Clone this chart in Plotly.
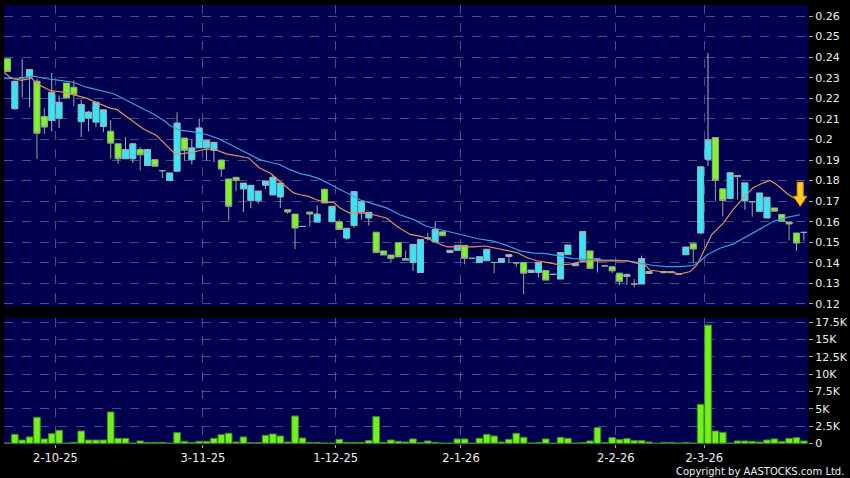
import plotly.graph_objects as go
from plotly.subplots import make_subplots

# ---------------- data ----------------
# candle index 0..108; None = no candle drawn
opens = [0.2392, 0.2149, 0.2300, 0.2303, 0.2283, 0.2112, 0.2092, 0.2103, 0.2274, 0.2254,
         0.2086, 0.2103, 0.2084, 0.2063, 0.2040, 0.1979, 0.1906, 0.1906, 0.1951, 0.1873,
         0.1902, 0.1848, 0.1800, 0.1845, 0.2007, 0.1902, 0.1959, 0.1959, 0.1947, 0.1900,
         0.1808, 0.1816, 0.1759, 0.1702, 0.1702, 0.1777, 0.1730, 0.1720, 0.1658, 0.1637,
         0.1577, 0.1647, 0.1598, 0.1758, 0.1600, 0.1600, 0.1520, 0.1581, 0.1647, 0.1618,
         0.1549, 0.1458, 0.1438, 0.1498, 0.1421, 0.1401, 0.1353, 0.1520, 0.1501, 0.1551,
         0.1450, 0.1461, 0.1485, 0.1422, 0.1401, 0.1410, 0.1402, 0.1402, 0.1431, 0.1400,
         0.1402, 0.1353, 0.1353, 0.1363, 0.1344, 0.1321, 0.1440, 0.1386, 0.1413, 0.1458,
         0.1418, 0.1385, 0.1381, 0.1350, 0.1334, 0.1297, 0.1297, 0.1348, None, 0.1358,
         0.1358, 0.1345, 0.1439, 0.1493, 0.1545, 0.1903, 0.2009, 0.1760, 0.1713, 0.1825,
         0.1703, 0.1697, 0.1650, 0.1618, 0.1667, 0.1635, 0.1599, 0.1545, 0.1548]
closes = [0.2330, 0.2283, 0.2300, 0.2340, 0.2030, 0.2060, 0.2230, 0.2181, 0.2201, 0.2218,
          0.2170, 0.2133, 0.2181, 0.2144, 0.1982, 0.1906, 0.1951, 0.1979, 0.1925, 0.1951,
          0.1870, 0.1848, 0.1837, 0.2080, 0.1947, 0.1959, 0.2056, 0.1996, 0.1986, 0.1856,
          0.1675, 0.1800, 0.1788, 0.1777, 0.1749, 0.1798, 0.1816, 0.1788, 0.1647, 0.1569,
          0.1577, 0.1637, 0.1637, 0.1691, 0.1675, 0.1562, 0.1568, 0.1747, 0.1699, 0.1646,
          0.1450, 0.1438, 0.1421, 0.1429, 0.1413, 0.1490, 0.1514, 0.1520, 0.1562, 0.1532,
          0.1461, 0.1485, 0.1422, 0.1422, 0.1430, 0.1466, 0.1402, 0.1421, 0.1440, 0.1400,
          0.1350, 0.1365, 0.1402, 0.1316, 0.1344, 0.1450, 0.1487, 0.1397, 0.1552, 0.1373,
          0.1418, 0.1385, 0.1361, 0.1310, 0.1344, 0.1297, 0.1421, 0.1358, None, 0.1352,
          0.1352, 0.1345, 0.1477, 0.1467, 0.1867, 0.1998, 0.1801, 0.1703, 0.1838, 0.1819,
          0.1789, 0.1697, 0.1740, 0.1719, 0.1651, 0.1602, 0.1589, 0.1496, 0.1548]
highs = [0.2392, 0.2285, 0.2392, 0.2340, 0.2295, 0.2152, 0.2324, 0.2214, 0.2274, 0.2287,
         0.2194, 0.2140, 0.2181, 0.2144, 0.2095, 0.1979, 0.2011, 0.1979, 0.1962, 0.1951,
         0.1902, 0.1848, 0.1837, 0.2132, 0.2007, 0.2000, 0.2102, 0.1996, 0.1986, 0.1900,
         0.1808, 0.1816, 0.1788, 0.1777, 0.1749, 0.1798, 0.1830, 0.1788, 0.1658, 0.1637,
         0.1577, 0.1647, 0.1678, 0.1758, 0.1675, 0.1611, 0.1568, 0.1747, 0.1699, 0.1646,
         0.1549, 0.1458, 0.1438, 0.1498, 0.1461, 0.1490, 0.1514, 0.1546, 0.1602, 0.1551,
         0.1461, 0.1485, 0.1485, 0.1422, 0.1430, 0.1466, 0.1402, 0.1421, 0.1440, 0.1400,
         0.1402, 0.1365, 0.1402, 0.1363, 0.1344, 0.1450, 0.1487, 0.1397, 0.1552, 0.1458,
         0.1418, 0.1385, 0.1381, 0.1350, 0.1344, 0.1321, 0.1435, 0.1358, None, 0.1358,
         0.1358, 0.1345, 0.1477, 0.1493, 0.1867, 0.2420, 0.2009, 0.1760, 0.1838, 0.1825,
         0.1789, 0.1697, 0.1740, 0.1719, 0.1667, 0.1635, 0.1599, 0.1545, 0.1548]
lows = [0.2330, 0.2145, 0.2205, 0.2157, 0.1906, 0.2027, 0.2039, 0.2056, 0.2200, 0.2162,
        0.2011, 0.2039, 0.2060, 0.2035, 0.1906, 0.1881, 0.1906, 0.1885, 0.1849, 0.1870,
        0.1870, 0.1812, 0.1800, 0.1845, 0.1897, 0.1878, 0.1959, 0.1897, 0.1891, 0.1818,
        0.1606, 0.1748, 0.1647, 0.1665, 0.1688, 0.1759, 0.1730, 0.1667, 0.1637, 0.1467,
        0.1577, 0.1577, 0.1598, 0.1691, 0.1600, 0.1562, 0.1512, 0.1570, 0.1610, 0.1581,
        0.1450, 0.1438, 0.1401, 0.1429, 0.1413, 0.1361, 0.1353, 0.1510, 0.1501, 0.1532,
        0.1450, 0.1461, 0.1393, 0.1422, 0.1401, 0.1410, 0.1350, 0.1402, 0.1400, 0.1380,
        0.1248, 0.1353, 0.1329, 0.1316, 0.1344, 0.1321, 0.1440, 0.1386, 0.1413, 0.1373,
        0.1353, 0.1385, 0.1350, 0.1292, 0.1292, 0.1280, 0.1297, 0.1348, None, 0.1352,
        0.1352, 0.1340, 0.1439, 0.1400, 0.1540, 0.1871, 0.1700, 0.1626, 0.1713, 0.1708,
        0.1659, 0.1624, 0.1650, 0.1618, 0.1651, 0.1602, 0.1509, 0.1459, 0.1507]
volumes_k = [0.05, 1.30, 0.48, 0.92, 3.76, 0.63, 1.40, 1.88, 0.03, 0.14,
             1.78, 0.48, 0.48, 0.48, 4.53, 0.72, 0.72, 0.03, 0.34, 0.14,
             0.14, 0.14, 0.03, 1.54, 0.29, 0.10, 0.29, 0.29, 0.72, 1.25,
             1.45, 0.19, 0.92, 0.10, 0.10, 1.16, 1.35, 1.06, 0.19, 3.95,
             0.77, 0.14, 0.14, 0.03, 0.03, 0.58, 0.14, 0.14, 0.14, 0.43,
             3.86, 0.14, 0.48, 0.29, 0.19, 0.63, 0.10, 0.34, 0.14, 0.03,
             0.03, 0.63, 0.63, 0.03, 0.72, 1.30, 1.06, 0.19, 0.58, 1.45,
             0.87, 0.03, 0.14, 0.63, 0.03, 0.87, 0.72, 0.03, 0.10, 0.34,
             2.27, 0.10, 0.82, 0.53, 0.67, 0.39, 0.39, 0.19, 0.00, 0.14,
             0.14, 0.03, 0.14, 0.03, 5.64, 17.10, 1.78, 1.59, 0.05, 0.34,
             0.34, 0.29, 0.19, 0.48, 0.63, 0.29, 0.72, 0.82, 0.34]

# moving-average lines (position on candle index scale, value)
ma_short_x = [-0.47, 0.5, 1.9, 3.3, 4, 5.8, 7.6, 9.2, 10.7, 12.5, 13.9, 14.8, 16.6, 18.4, 20.2,
              21.6, 22.7, 23.8, 25.2, 26.6, 27.9, 29.7, 31.3, 32.7, 34.2, 35.6, 37.2, 38.8,
              39.7, 40.8, 41.9, 43.1, 44.2, 45.1, 46.4, 48.3, 49.6, 51.4, 52.8, 54.6, 55.9,
              56.8, 58.2, 59.6, 61.4, 63.2, 64.8, 65.9, 67.7, 69.1, 70.4, 71.8, 73.1, 74.9,
              76.3, 77.6, 79, 80.3, 82.2, 84, 84.9, 86.5, 87.1, 88.5, 90.3, 91.2, 92.6, 93.5,
              94.4, 95.5, 97.1, 98.4, 99.8, 101.1, 102.5, 103.4, 104.3, 105.7, 106.6, 107.5]
ma_short_y = [0.2327, 0.2298, 0.2287, 0.2298, 0.2270, 0.2238, 0.2230, 0.2214, 0.2201, 0.2173,
              0.2152, 0.2146, 0.2100, 0.2052, 0.2019, 0.1967, 0.1931, 0.1931, 0.1938, 0.1951,
              0.1954, 0.1930, 0.1918, 0.1910, 0.1861, 0.1837, 0.1788, 0.1740, 0.1731, 0.1723,
              0.1707, 0.1694, 0.1694, 0.1667, 0.1642, 0.1642, 0.1634, 0.1618, 0.1578, 0.1538,
              0.1530, 0.1522, 0.1498, 0.1478, 0.1478, 0.1478, 0.1482, 0.1474, 0.1458, 0.1450,
              0.1426, 0.1410, 0.1402, 0.1390, 0.1394, 0.1405, 0.1410, 0.1410, 0.1413, 0.1410,
              0.1402, 0.1389, 0.1365, 0.1358, 0.1353, 0.1345, 0.1358, 0.1390, 0.1455, 0.1537,
              0.1594, 0.1659, 0.1716, 0.1765, 0.1789, 0.1801, 0.1781, 0.1737, 0.1716, 0.1700]
ma_long_x = [-0.47, 1.7, 3.5, 5.3, 7.1, 8.9, 10.7, 12.5, 14.4, 16.2, 18, 19.8, 21.4, 22, 23.4,
             25.2, 27, 28.6, 30.2, 31.5, 32.9, 34.2, 35.6, 36.9, 38.3, 39.7, 41, 42.4, 44.2,
             46, 47.8, 49.6, 51.4, 53.2, 55.1, 56.8, 58.7, 60.5, 62.3, 64, 65.9, 67.7, 69.5,
             71.4, 73.1, 74.9, 76.7, 78.4, 80.3, 82.2, 84, 85.3, 86.5, 87.6, 89.4, 91.2, 93,
             93.9, 94.9, 96.7, 98.4, 100.3, 102.1, 103.9, 105.7, 107.5]
ma_long_y = [0.2295, 0.2298, 0.2308, 0.2295, 0.2287, 0.2278, 0.2254, 0.2238, 0.2222, 0.2189,
             0.2157, 0.2124, 0.2087, 0.2068, 0.2045, 0.2037, 0.2024, 0.2004, 0.1975, 0.1951,
             0.1926, 0.1902, 0.1889, 0.1878, 0.1853, 0.1834, 0.1824, 0.1807, 0.1774, 0.1739,
             0.1707, 0.1687, 0.1667, 0.1634, 0.1610, 0.1578, 0.1562, 0.1549, 0.1533, 0.1516,
             0.1506, 0.1485, 0.1458, 0.1447, 0.1445, 0.1434, 0.1421, 0.1418, 0.1413, 0.1413,
             0.1410, 0.1402, 0.1395, 0.1387, 0.1382, 0.1382, 0.1387, 0.1407, 0.1439, 0.1472,
             0.1491, 0.1529, 0.1569, 0.1602, 0.1621, 0.1634]

date_tick_pos = [6.5, 26.5, 44.5, 61.5, 82.5, 94.5]
date_tick_text = ["2-10-25", "3-11-25", "1-12-25", "2-1-26", "2-2-26", "2-3-26"]
price_ticks = [0.12, 0.13, 0.14, 0.15, 0.16, 0.17, 0.18, 0.19, 0.20, 0.21, 0.22, 0.23, 0.24, 0.25, 0.26]
price_tick_text = ["0.12", "0.13", "0.14", "0.15", "0.16", "0.17", "0.18", "0.19", "0.2",
                   "0.21", "0.22", "0.23", "0.24", "0.25", "0.26"]
vol_ticks = [0, 2.5, 5, 7.5, 10, 12.5, 15, 17.5]
vol_tick_text = ["0", "2.5K", "5K", "7.5K", "10K", "12.5K", "15K", "17.5K"]
copyright_text = "Copyright by AASTOCKS.com Ltd."

idx = list(range(len(opens)))

# ---------------- styling ----------------
NAVY = "#00004e"
CYAN = "#30e8f8"
GREEN = "#7ef526"
GRID = "rgba(150,150,200,0.5)"
TXT = "#eeeeee"
FONT = "DejaVu Sans"

fig = make_subplots(rows=2, cols=1, shared_xaxes=False, vertical_spacing=0.0)

fig.add_trace(go.Candlestick(
    x=idx, open=opens, high=highs, low=lows, close=closes,
    increasing=dict(fillcolor=CYAN, line=dict(color="#9fb3bb", width=1)),
    decreasing=dict(fillcolor=GREEN, line=dict(color="#94a88c", width=1)),
    whiskerwidth=0, showlegend=False, hoverinfo="skip"), row=1, col=1)

fig.add_trace(go.Scatter(x=ma_long_x, y=ma_long_y, mode="lines",
                         line=dict(color="#3e9be6", width=1.2), showlegend=False,
                         hoverinfo="skip"), row=1, col=1)
fig.add_trace(go.Scatter(x=ma_short_x, y=ma_short_y, mode="lines",
                         line=dict(color="#e0915c", width=1.2), showlegend=False,
                         hoverinfo="skip"), row=1, col=1)

fig.add_trace(go.Bar(x=idx, y=volumes_k, marker=dict(color="#72f21c",
                     line=dict(color="#3f8a22", width=1)),
                     showlegend=False, hoverinfo="skip"), row=2, col=1)

xrange = [-0.47, 108.56]
common_x = dict(range=xrange, showgrid=True, gridcolor=GRID, griddash="dash", gridwidth=1,
                tickvals=date_tick_pos, zeroline=False, showline=False,
                rangeslider=dict(visible=False), fixedrange=True, automargin=False)

fig.update_layout(
    width=850, height=478, autosize=False,
    paper_bgcolor="black", plot_bgcolor=NAVY,
    margin=dict(l=4, r=42, t=5, b=34, autoexpand=False),
    font=dict(family=FONT, color=TXT, size=11),
    boxgap=0.17, boxgroupgap=0.0, bargap=0.1,
    xaxis=dict(domain=[0, 1], anchor="y", showticklabels=False, ticks="", **common_x),
    xaxis2=dict(domain=[0, 1], anchor="y2", ticktext=date_tick_text, ticks="outside",
                ticklen=3, tickcolor="#aaaaaa", tickfont=dict(size=11.5, color=TXT),
                **common_x),
    yaxis=dict(domain=[0.3144, 1], range=[0.11903, 0.26536], side="right",
               tickvals=price_ticks, ticktext=price_tick_text, ticks="outside", ticklen=4,
               tickcolor="#aaaaaa", showgrid=True, gridcolor=GRID, griddash="dash",
               zeroline=False, automargin=False, tickfont=dict(size=11, color=TXT)),
    yaxis2=dict(domain=[0, 0.287], range=[-0.1, 18.12], side="right",
                tickvals=vol_ticks, ticktext=vol_tick_text, ticks="outside", ticklen=4,
                tickcolor="#aaaaaa", showgrid=True, gridcolor=GRID, griddash="dash",
                zeroline=False, automargin=False, tickfont=dict(size=11, color=TXT)),
    annotations=[dict(text=copyright_text, xref="paper", yref="paper", x=1, y=0,
                      xanchor="right", yanchor="middle", xshift=38, yshift=-27,
                      showarrow=False, font=dict(size=10, color=TXT, family=FONT))],
)

# down arrow marker next to the last candle (drawn in pixels)
arrow_anchor_x = idx[-1] - 0.5
arrow_anchor_y = 0.1792
fig.add_shape(type="path", xref="x", yref="y", xsizemode="pixel", ysizemode="pixel",
              xanchor=arrow_anchor_x, yanchor=arrow_anchor_y,
              path="M -3,0 L 3,0 L 3,-14 L 6.5,-14 L 0,-24 L -6.5,-14 L -3,-14 Z",
              fillcolor="#ffcf1f", line=dict(color="#e8960c", width=1))

fig.write_html("out.html", config={"displayModeBar": False},
               post_script="document.body.style.margin='0';document.body.style.overflow='hidden';")
